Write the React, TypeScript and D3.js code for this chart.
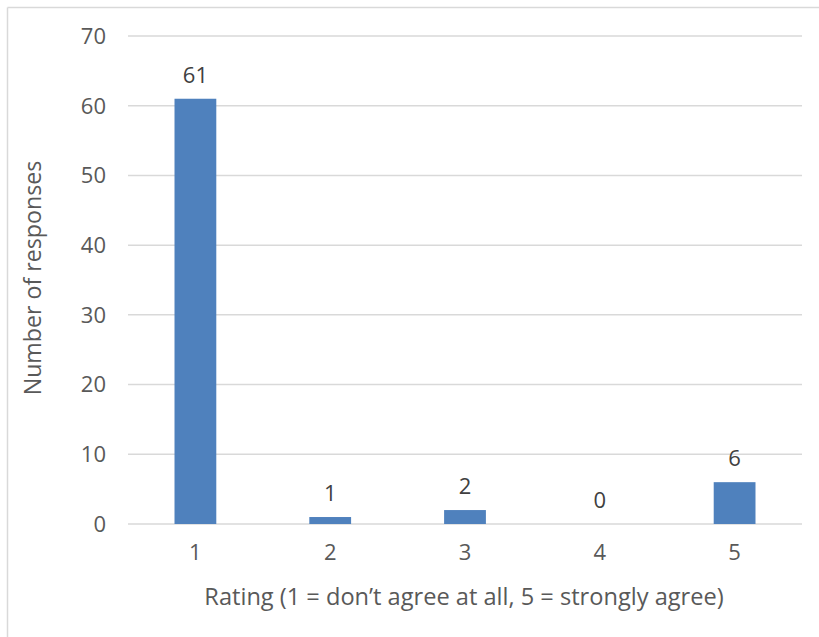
import React from "react";
import * as d3 from "d3";

const categories = ["1", "2", "3", "4", "5"];
const values = [61, 1, 2, 0, 6];
const yTicks = [0, 10, 20, 30, 40, 50, 60, 70];
const xTitle = "Rating (1 = don\u2019t agree at all, 5 = strongly agree)";
const yTitle = "Number of responses";

export default function App() {
  const W = 819, H = 637;
  const left = 128, right = 802, top = 36, bottom = 524;
  const x = d3.scaleBand<string>().domain(categories).range([left, right]).paddingInner(0.69).paddingOuter(0.345);
  const y = d3.scaleLinear().domain([0, 70]).range([bottom, top]);
  const font = "'Open Sans', sans-serif";
  return (
    <svg width={W} height={H} style={{ position: "absolute", left: 0, top: 0 }} fontFamily={font}>
      <rect x={0} y={0} width={W} height={H} fill="#fff" />
      <line x1={7.5} y1={7.5} x2={7.5} y2={H} stroke="#d9d9d9" strokeWidth={1.5} />
      <line x1={7.5} y1={7.5} x2={W} y2={7.5} stroke="#d9d9d9" strokeWidth={1.5} />
      {yTicks.map((t) => (
        <g key={t}>
          <line x1={left} x2={right} y1={y(t)} y2={y(t)} stroke="#d9d9d9" strokeWidth={1.5} />
          <text x={106} y={y(t)} dy="0.36em" textAnchor="end" fontSize={22} fill="#595959">{t}</text>
        </g>
      ))}
      {categories.map((c, i) => (
        <g key={c}>
          <rect x={x(c)!} width={x.bandwidth()} y={y(values[i])} height={bottom - y(values[i])} fill="#4f81bd" />
          <text x={x(c)! + x.bandwidth() / 2} y={y(values[i]) - 16} textAnchor="middle" fontSize={22} fill="#404040">{values[i]}</text>
          <text x={x(c)! + x.bandwidth() / 2} y={560} textAnchor="middle" fontSize={22} fill="#595959">{c}</text>
        </g>
      ))}
      <text x={464} y={605} textAnchor="middle" fontSize={23.6} fill="#595959">{xTitle}</text>
      <text transform={`translate(41,${278}) rotate(-90)`} textAnchor="middle" fontSize={23.2} fill="#595959">{yTitle}</text>
    </svg>
  );
}
